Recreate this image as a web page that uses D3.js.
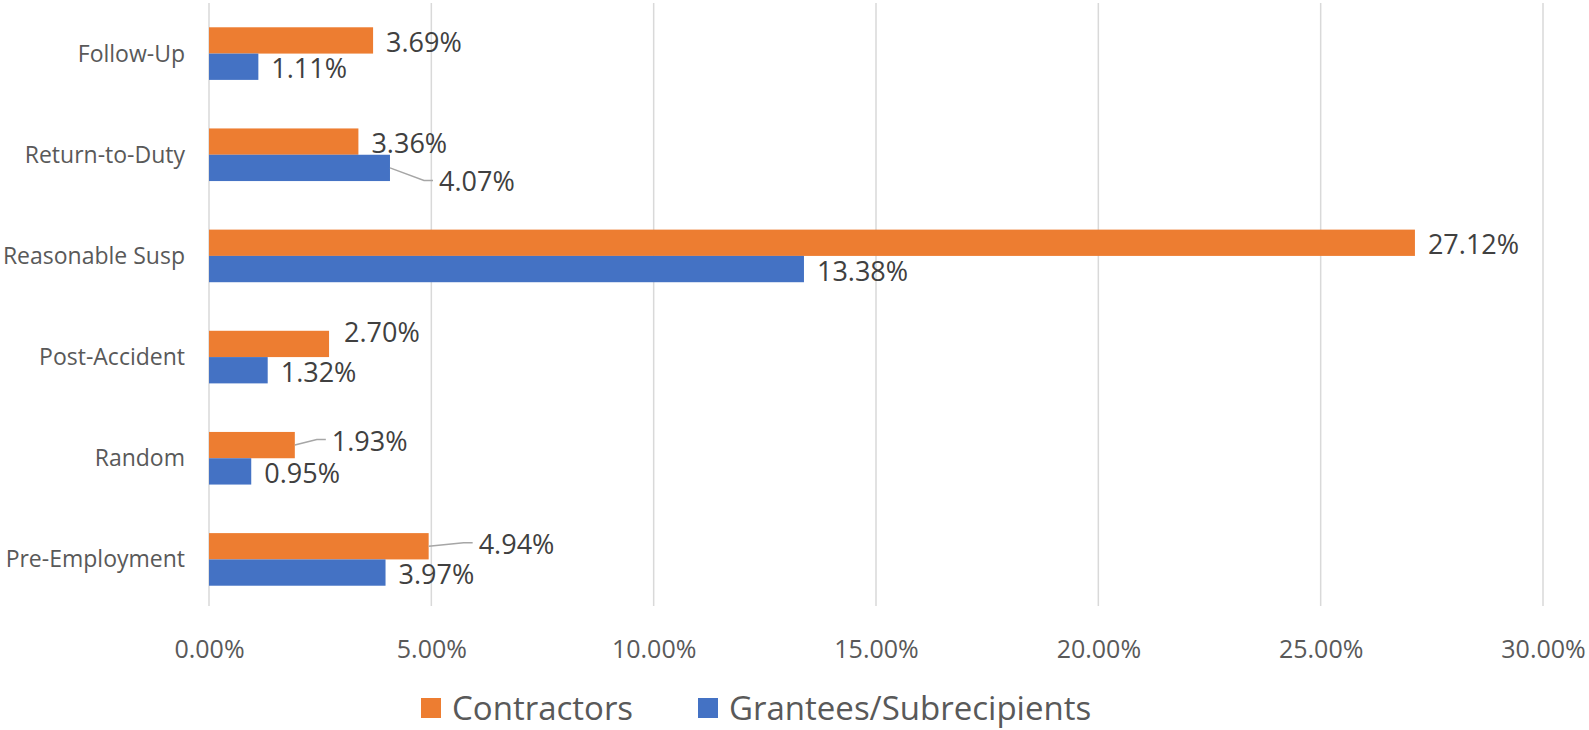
<!DOCTYPE html>
<html>
<head>
<meta charset="utf-8">
<script src="https://cdn.jsdelivr.net/npm/d3@7"></script>
<style>
  body { margin: 0; background: #fff; }
  svg { display: block; font-family: "Open Sans", sans-serif; }
</style>
</head>
<body>
<div id="chart"></div>
<script>
// Data (bottom to top as in the source sheet)
const categories = ['Pre-Employment', 'Random', 'Post-Accident', 'Reasonable Susp', 'Return-to-Duty', 'Follow-Up'];
const contractors = [4.94, 1.93, 2.70, 27.12, 3.36, 3.69];
const grantees = [3.97, 0.95, 1.32, 13.38, 4.07, 1.11];
const seriesNames = ['Contractors', 'Grantees/Subrecipients'];
const xTicks = [0, 5, 10, 15, 20, 25, 30];

const width = 1589;
const height = 730;

// Manually moved data labels (dx, dy from default spot, leader line or not)
const labelNudges = {
    'Contractors|Post-Accident': { dx: 2, dy: -13, leader: false },
    'Contractors|Random': { dx: 24, dy: -6, leader: true },
    'Contractors|Pre-Employment': { dx: 37, dy: -4, leader: true },
    'Grantees/Subrecipients|Return-to-Duty': { dx: 36, dy: 12, leader: true }
};

const colors = { 'Contractors': '#ED7D31', 'Grantees/Subrecipients': '#4472C4' };

const svg = d3.select('#chart').append('svg')
    .attr('width', width)
    .attr('height', height);

// Scales
const x = d3.scaleLinear().domain([0, 30]).range([209, 1543]);
const y = d3.scaleBand()
    .domain(categories.slice().reverse())
    .range([3, 610])
    .paddingInner(0.48)
    .paddingOuter(0.24);
const ySub = d3.scaleBand().domain(seriesNames).range([0, y.bandwidth()]);

// Gridlines
svg.append('g')
    .selectAll('line')
    .data(xTicks)
    .enter()
    .append('line')
    .attr('x1', d => x(d))
    .attr('x2', d => x(d))
    .attr('y1', 3)
    .attr('y2', 606)
    .attr('stroke', '#D9D9D9')
    .attr('stroke-width', 1.5);

// X axis labels
const xAxis = d3.axisBottom(x)
    .tickValues(xTicks)
    .tickSize(0)
    .tickPadding(0)
    .tickFormat(d => d.toFixed(2) + '%');

svg.append('g')
    .attr('transform', 'translate(0, 649)')
    .call(xAxis)
    .call(g => g.select('.domain').remove())
    .selectAll('text')
    .attr('dy', '0.35em')
    .attr('fill', '#595959')
    .style('font-size', '25px')
    .style('font-family', '"Open Sans", sans-serif');

// Category labels
svg.append('g')
    .selectAll('text')
    .data(categories)
    .enter()
    .append('text')
    .attr('x', 185)
    .attr('y', d => y(d) + y.bandwidth() / 2)
    .attr('dy', '0.35em')
    .attr('text-anchor', 'end')
    .attr('fill', '#595959')
    .style('font-size', '23px')
    .text(d => d);

// Flatten into bar records
const bars = [];
categories.forEach((c, i) => {
    bars.push({ series: 'Contractors', category: c, value: contractors[i] });
    bars.push({ series: 'Grantees/Subrecipients', category: c, value: grantees[i] });
});

svg.append('g')
    .selectAll('rect')
    .data(bars)
    .enter()
    .append('rect')
    .attr('x', x(0))
    .attr('y', d => y(d.category) + ySub(d.series))
    .attr('width', d => x(d.value) - x(0))
    .attr('height', ySub.bandwidth())
    .attr('fill', d => colors[d.series]);

// Data labels with optional leader lines
const labelG = svg.append('g');
bars.forEach(d => {
    const barEnd = x(d.value);
    const barMid = y(d.category) + ySub(d.series) + ySub.bandwidth() / 2;
    const nudge = labelNudges[d.series + '|' + d.category] || { dx: 0, dy: 0, leader: false };
    const lx = barEnd + 13 + nudge.dx;
    const ly = barMid + 2 + nudge.dy;

    if (nudge.leader) {
        labelG.append('polyline')
            .attr('points', `${barEnd},${barMid} ${lx - 15},${ly - 1.5} ${lx - 6},${ly - 1.5}`)
            .attr('fill', 'none')
            .attr('stroke', '#A6A6A6')
            .attr('stroke-width', 1.5);
    }

    labelG.append('text')
        .attr('x', lx)
        .attr('y', ly)
        .attr('dy', '0.35em')
        .attr('fill', '#404040')
        .style('font-size', '27px')
        .text(d.value.toFixed(2) + '%');
});

// Legend
const legendPos = [421, 698];
const legend = svg.selectAll('.legend')
    .data(seriesNames)
    .enter()
    .append('g')
    .attr('class', 'legend')
    .attr('transform', (d, i) => `translate(${legendPos[i]}, 698)`);

legend.append('rect')
    .attr('width', 20)
    .attr('height', 20)
    .attr('fill', d => colors[d]);

legend.append('text')
    .attr('x', 31)
    .attr('y', 10)
    .attr('dy', '0.35em')
    .attr('fill', '#595959')
    .style('font-size', '33px')
    .text(d => d);
</script>
</body>
</html>
